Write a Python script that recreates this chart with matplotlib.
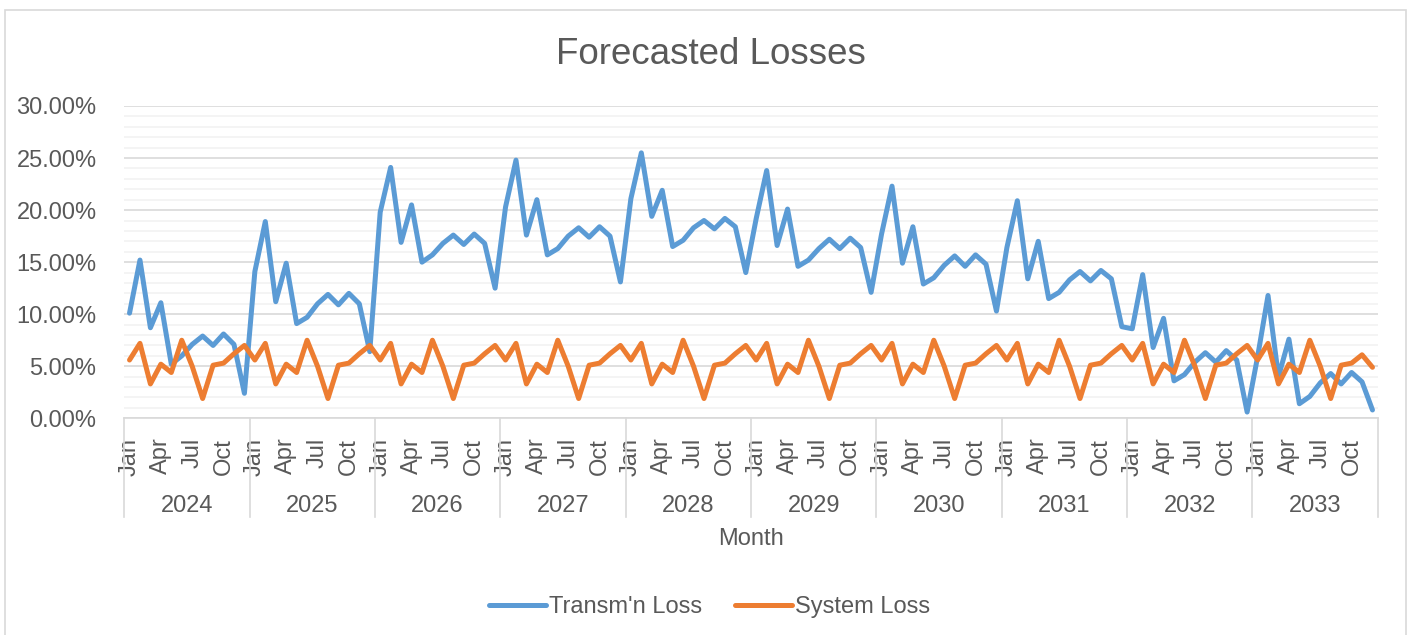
import numpy as np
import matplotlib
matplotlib.use("Agg")
import matplotlib.pyplot as plt
from matplotlib.patches import Rectangle
from matplotlib.ticker import MultipleLocator, FuncFormatter
import matplotlib.transforms as mtransforms

plt.rcParams['font.family'] = ['Liberation Sans', 'DejaVu Sans']

YEARS = [str(y) for y in range(2024, 2034)]
MONTH_TICKS = ["Jan", "Apr", "Jul", "Oct"]

# monthly values in percent, one row per year
TRANSM_LOSS = [
    10.1, 15.2, 8.7, 11.1, 5.2, 6.0, 7.1, 7.9, 7.0, 8.1, 7.1, 2.4,      # 2024
    14.1, 18.9, 11.2, 14.9, 9.1, 9.7, 11.0, 11.9, 10.9, 12.0, 11.0, 6.4,  # 2025
    19.8, 24.1, 16.9, 20.5, 15.0, 15.7, 16.8, 17.6, 16.7, 17.7, 16.8, 12.5,  # 2026
    20.3, 24.8, 17.6, 21.0, 15.7, 16.3, 17.5, 18.3, 17.4, 18.4, 17.5, 13.1,  # 2027
    21.1, 25.5, 19.4, 21.9, 16.5, 17.1, 18.3, 19.0, 18.2, 19.2, 18.4, 14.0,  # 2028
    19.2, 23.8, 16.6, 20.1, 14.6, 15.2, 16.3, 17.2, 16.3, 17.3, 16.4, 12.1,  # 2029
    17.7, 22.3, 14.9, 18.4, 12.9, 13.5, 14.7, 15.6, 14.6, 15.7, 14.8, 10.3,  # 2030
    16.4, 20.9, 13.4, 17.0, 11.5, 12.1, 13.3, 14.1, 13.2, 14.2, 13.4, 8.8,   # 2031
    8.6, 13.8, 6.8, 9.6, 3.6, 4.2, 5.4, 6.3, 5.4, 6.5, 5.6, 0.6,             # 2032
    5.9, 11.8, 4.0, 7.6, 1.4, 2.1, 3.4, 4.3, 3.3, 4.4, 3.5, 0.8,             # 2033
]
SYSTEM_LOSS = [
    5.6, 7.2, 3.3, 5.2, 4.4, 7.5, 5.0, 1.9, 5.1, 5.3, 6.2, 7.0,  # 2024
    5.6, 7.2, 3.3, 5.2, 4.4, 7.5, 5.0, 1.9, 5.1, 5.3, 6.2, 7.0,  # 2025
    5.6, 7.2, 3.3, 5.2, 4.4, 7.5, 5.0, 1.9, 5.1, 5.3, 6.2, 7.0,  # 2026
    5.6, 7.2, 3.3, 5.2, 4.4, 7.5, 5.0, 1.9, 5.1, 5.3, 6.2, 7.0,  # 2027
    5.6, 7.2, 3.3, 5.2, 4.4, 7.5, 5.0, 1.9, 5.1, 5.3, 6.2, 7.0,  # 2028
    5.6, 7.2, 3.3, 5.2, 4.4, 7.5, 5.0, 1.9, 5.1, 5.3, 6.2, 7.0,  # 2029
    5.6, 7.2, 3.3, 5.2, 4.4, 7.5, 5.0, 1.9, 5.1, 5.3, 6.2, 7.0,  # 2030
    5.6, 7.2, 3.3, 5.2, 4.4, 7.5, 5.0, 1.9, 5.1, 5.3, 6.2, 7.0,  # 2031
    5.6, 7.2, 3.3, 5.2, 4.4, 7.5, 5.0, 1.9, 5.1, 5.3, 6.2, 7.0,  # 2032
    5.6, 7.2, 3.3, 5.2, 4.4, 7.5, 5.0, 1.9, 5.1, 5.3, 6.1, 4.9,  # 2033
]

BLUE = "#5B9BD5"
ORANGE = "#ED7D31"
TEXT = "#595959"
GRID_MAJOR = "#D9D9D9"
GRID_MINOR = "#F2F2F2"

transm = np.array(TRANSM_LOSS) / 100
system = np.array(SYSTEM_LOSS) / 100
x = np.arange(len(transm))

fig = plt.figure(figsize=(14.11, 6.35), dpi=100)
ax = fig.add_axes([124.3 / 1411, 216.7 / 635, 1253.4 / 1411, 312.3 / 635])

# outer chart border (bottom edge falls outside the image)
fig.patches.append(Rectangle((5 / 1411, -0.1), 1401 / 1411, 625 / 635 + 0.1,
                             transform=fig.transFigure, fill=False,
                             edgecolor=GRID_MAJOR, linewidth=1.2))

ax.plot(x, transm, color=BLUE, linewidth=3.6, solid_joinstyle='round',
        solid_capstyle='round', label="Transm'n Loss", zorder=3)
ax.plot(x, system, color=ORANGE, linewidth=3.6, solid_joinstyle='round',
        solid_capstyle='round', label="System Loss", zorder=4)

ax.set_xlim(-0.5, len(x) - 0.5)
ax.set_ylim(0, 0.30)
ax.yaxis.set_major_locator(MultipleLocator(0.05))
ax.yaxis.set_minor_locator(MultipleLocator(0.01))
ax.yaxis.set_major_formatter(FuncFormatter(lambda v, p: f"{v * 100:.2f}%"))
ax.grid(which='major', axis='y', color=GRID_MAJOR, linewidth=1.2, zorder=1)
ax.grid(which='minor', axis='y', color=GRID_MINOR, linewidth=1.2, zorder=0)
ax.set_axisbelow(True)

for side in ['top', 'right', 'left']:
    ax.spines[side].set_visible(False)
ax.spines['bottom'].set_color(GRID_MAJOR)
ax.spines['bottom'].set_linewidth(1.2)

ax.tick_params(axis='y', which='both', length=0, labelsize=17,
               labelcolor=TEXT, pad=20)

# month ticks: Jan / Apr / Jul / Oct for every year
tick_pos = [i for i in x if i % 3 == 0]
tick_lab = [MONTH_TICKS[(i % 12) // 3] for i in tick_pos]
ax.set_xticks(tick_pos)
ax.set_xticklabels(tick_lab, rotation=90, fontsize=17, color=TEXT)
ax.tick_params(axis='x', length=0, pad=14)

# year group labels and separators
trans = mtransforms.blended_transform_factory(ax.transData, ax.transAxes)
for k in range(len(YEARS) + 1):
    ax.plot([k * 12 - 0.5] * 2, [0, -0.317], transform=trans, color=GRID_MAJOR,
            linewidth=1.2, clip_on=False)
for k, yr in enumerate(YEARS):
    ax.text(k * 12 + 5.5, -0.28, yr, transform=trans, ha='center',
            va='center', fontsize=17, color=TEXT)
ax.text(0.5, -0.387, "Month", transform=ax.transAxes, ha='center',
        va='center', fontsize=17, color=TEXT)

fig.text(0.5035, 0.914, "Forecasted Losses", ha='center', va='center',
         fontsize=26.5, color=TEXT)

fig.legend(loc='center', bbox_to_anchor=(0.503, 0.044), ncol=2,
           frameon=False, fontsize=17, handlelength=2.4, handletextpad=0.15,
           columnspacing=1.4, labelcolor=TEXT)

fig.savefig("out.png", dpi=100)
